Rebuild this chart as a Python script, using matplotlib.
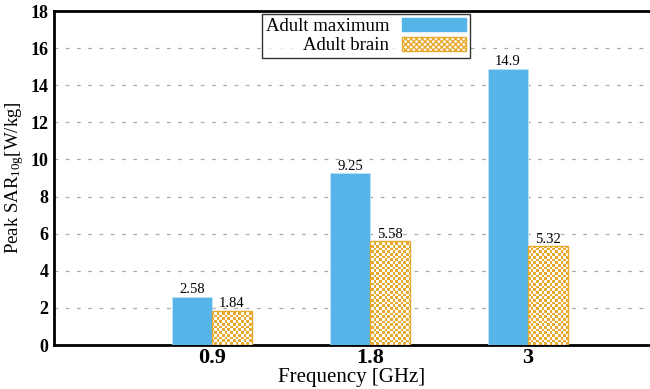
import numpy as np
import matplotlib
matplotlib.use("Agg")
import matplotlib.pyplot as plt
from matplotlib.colors import ListedColormap
from matplotlib.patches import Patch

categories = ["0.9", "1.8", "3"]
adult_max = [2.58, 9.25, 14.9]
adult_brain = [1.84, 5.58, 5.32]
max_labels = ["2.58", "9.25", "14.9"]
brain_labels = ["1.84", "5.58", "5.32"]
yticks = [0, 2, 4, 6, 8, 10, 12, 14, 16, 18]

blue = "#56B4E9"
orange = "#E9A92C"

plt.rcParams["font.family"] = ["Liberation Serif", "DejaVu Serif"]
plt.rcParams["mathtext.fontset"] = "custom"
plt.rcParams["mathtext.rm"] = "Liberation Serif"
plt.rcParams["mathtext.it"] = "Liberation Serif"
plt.rcParams["hatch.linewidth"] = 1.0

fig = plt.figure(figsize=(6.5, 3.89), dpi=100)
ax = fig.add_axes([54/650, 1-345/389, 596/650, 334/389])

x = np.arange(1, len(categories) + 1)
w = 0.253
b1 = ax.bar(x - w/2, adult_max, width=w, color=blue, edgecolor="#BFE3F7", linewidth=0.6, zorder=3)
b2 = ax.bar(x + w/2, adult_brain, width=w, color="white", edgecolor=orange, linewidth=1.0, zorder=3)

xlim = (0, 3.772)
ylim = (0, 18)
ax.set_xlim(*xlim)
ax.set_ylim(*ylim)

# checkerboard fill clipped to the brain bars
nx, ny = 220, 124
yy, xx = np.mgrid[0:ny, 0:nx]
checker = ((xx + yy) % 2).astype(float)
cmap = ListedColormap(["white", orange])
for bar in b2:
    im = ax.imshow(checker, extent=(xlim[0], xlim[1], ylim[0], ylim[1]), cmap=cmap,
                   interpolation="nearest", aspect="auto", origin="lower", zorder=3.5)
    im.set_clip_path(bar)
ax.set_xlim(*xlim)
ax.set_ylim(*ylim)
for bar in b2:
    bar.set_facecolor("none")
    bar.set_zorder(4)

for bar, lab in zip(b1, max_labels):
    ax.text(bar.get_x() + bar.get_width()/2, bar.get_height() + 0.04, lab,
            ha="center", va="bottom", fontsize=10.5, zorder=5)
for bar, lab in zip(b2, brain_labels):
    ax.text(bar.get_x() + bar.get_width()/2, bar.get_height() + 0.04, lab,
            ha="center", va="bottom", fontsize=10.5, zorder=5)

ax.set_yticks(yticks)
ax.set_yticklabels([str(t) for t in yticks], fontweight="bold", fontsize=13)
ax.set_xticks(x)
ax.set_xticklabels(categories, fontweight="bold", fontsize=16)
ax.tick_params(axis="both", length=0, pad=4)
ax.tick_params(axis="x", pad=2)

for yv in yticks[1:-1]:
    ax.axhline(yv, color="#A8A8A8", linestyle=(0, (3, 6)), linewidth=0.9, zorder=1)

for s in ["left", "top", "bottom"]:
    ax.spines[s].set_linewidth(2.0)
ax.spines["right"].set_visible(False)

ax.set_xlabel("Frequency [GHz]", fontsize=15, labelpad=0)
ax.set_ylabel(r"Peak SAR$_{\mathrm{10g}}$[W/kg]", fontsize=13.5, labelpad=3)

handles = [Patch(facecolor=blue, edgecolor=blue),
           Patch(facecolor="white", edgecolor=orange, hatch="xxxxxx")]
leg = ax.legend(handles, ["Adult maximum", "Adult brain"], loc="upper left",
                bbox_to_anchor=((262-54)/596, 1-3/334), markerfirst=False,
                handlelength=3.4, handleheight=0.75, fontsize=13.5, frameon=True,
                fancybox=False, edgecolor="black", borderpad=0.2, labelspacing=0.1,
                handletextpad=0.7, borderaxespad=0)
leg.get_frame().set_linewidth(1.0)
for t in leg.get_texts():
    t.set_ha("right")
leg._legend_box.align = "right"
leg._legend_box.pad = 0.2 * 13.5
leg.set_zorder(10)

fig.canvas.draw()
# widen the frame on the right to match the reference's padding
fr = leg.get_frame()
fr.set_width(fr.get_width() + 8)

fig.savefig("out.png", dpi=100)
